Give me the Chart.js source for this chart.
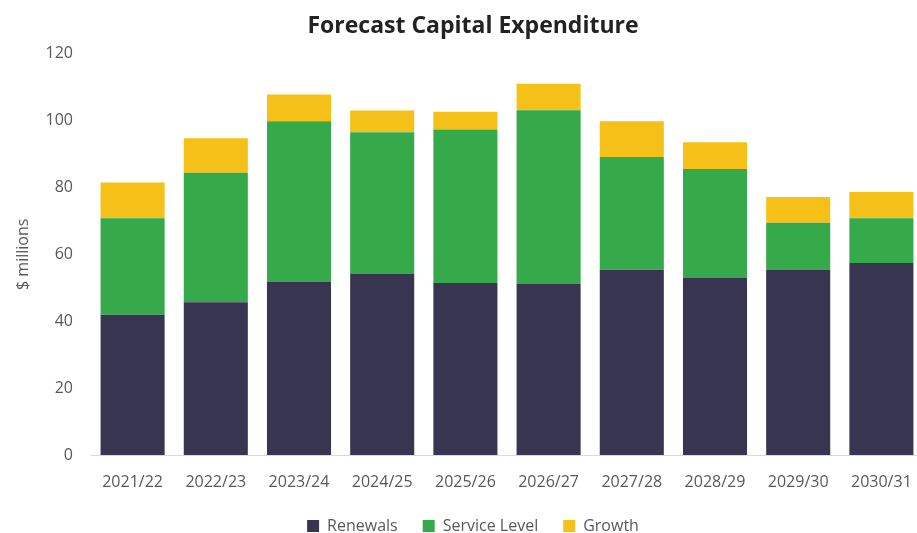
<!DOCTYPE html>
<html>
<head>
<meta charset="utf-8">
<script src="https://cdn.jsdelivr.net/npm/chart.js@4"></script>
<style>
  html, body { margin: 0; padding: 0; background: #fff; overflow: hidden; }
  #clip { width: 917px; height: 533px; overflow: hidden; }
  #wrap { position: relative; width: 923px; height: 533px; }
</style>
</head>
<body>
<div id="clip"><div id="wrap"><canvas id="chart"></canvas></div></div>
<script>
const years = ["2021/22", "2022/23", "2023/24", "2024/25", "2025/26", "2026/27", "2027/28", "2028/29", "2029/30", "2030/31"];
const renewals = [41.9, 45.7, 51.7, 54.1, 51.4, 51.1, 55.4, 53.1, 55.3, 57.4];
const serviceLevel = [28.9, 38.7, 48.1, 42.4, 45.9, 52.0, 33.7, 32.4, 14.1, 13.4];
const growth = [10.7, 10.3, 8.0, 6.5, 5.3, 7.9, 10.7, 8.0, 7.7, 7.8];
const yTicks = [0, 20, 40, 60, 80, 100, 120];

const COLORS = {
  renewals: "#383550",
  service: "#36aa4a",
  growth: "#f5c118",
  text: "#595959",
};

const FONT = "'Open Sans', 'Noto Sans', sans-serif";

const bar = (label, data, color) => ({
  label,
  data,
  backgroundColor: color,
  borderWidth: 0,
  barPercentage: 0.77,
  categoryPercentage: 1,
});

new Chart(document.getElementById("chart"), {
  type: "bar",
  data: {
    labels: years,
    datasets: [
      bar("Renewals", renewals, COLORS.renewals),
      bar("Service Level", serviceLevel, COLORS.service),
      bar("Growth", growth, COLORS.growth),
    ],
  },
  options: {
    responsive: true,
    maintainAspectRatio: false,
    animation: false,
    // canvas is a bit wider than the page: the original plot runs past the right edge
    layout: { padding: { left: 23, right: 0, top: 0, bottom: -11 } },
    scales: {
      x: {
        stacked: true,
        afterFit: (axis) => { axis.height = 38; },
        // invisible tick marks push labels down without reserving right padding
        grid: { display: true, drawOnChartArea: false, drawTicks: true, tickLength: 14, color: "rgba(0,0,0,0)" },
        border: { color: "#d9d9d9", width: 1 },
        ticks: { color: COLORS.text, font: { family: FONT, size: 16 }, padding: 4, maxRotation: 0 },
      },
      y: {
        stacked: true,
        min: 0,
        max: 120,
        afterBuildTicks: (axis) => { axis.ticks = yTicks.map((v) => ({ value: v })); },
        afterFit: (axis) => { axis.width = 68; },
        grid: { display: false, drawTicks: false },
        border: { display: false },
        ticks: { color: COLORS.text, font: { family: FONT, size: 16 }, padding: 18 },
        title: { display: true, text: "$ millions", color: COLORS.text, font: { family: FONT, size: 16 }, padding: { top: -9, bottom: 4 } },
      },
    },
    plugins: {
      title: {
        display: true,
        text: "Forecast Capital Expenditure",
        color: "#222",
        font: { family: FONT, size: 23, weight: "bold" },
        padding: { top: 13, bottom: 13 },
      },
      legend: {
        position: "bottom",
        labels: { color: COLORS.text, font: { family: FONT, size: 16 }, boxWidth: 12, boxHeight: 12, padding: 25 },
      },
      tooltip: { enabled: false },
    },
  },
});
</script>
</body>
</html>
